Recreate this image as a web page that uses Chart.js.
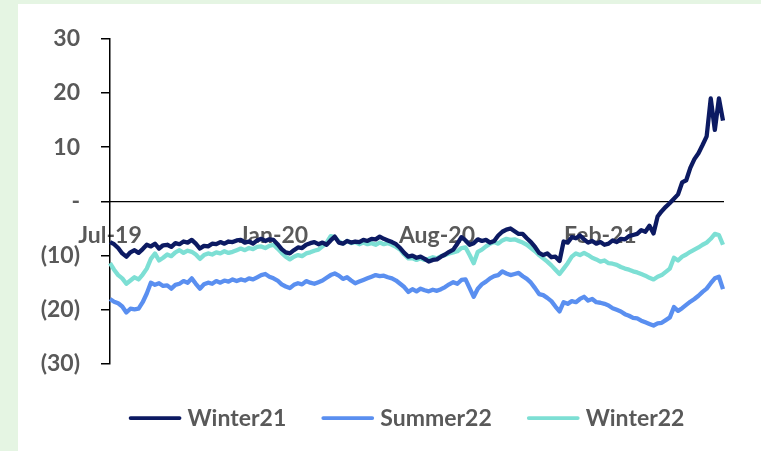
<!DOCTYPE html>
<html>
<head>
<meta charset="utf-8">
<script src="https://cdn.jsdelivr.net/npm/chart.js@4.4.1/dist/chart.umd.min.js"></script>
<style>
  html, body { margin: 0; padding: 0; width: 761px; height: 451px; overflow: hidden; background: #E5F5E3; }
  #panel { position: absolute; left: 18px; top: 4px; width: 743px; height: 447px; background: #ffffff; }
  canvas { display: block; }
</style>
</head>
<body>
<div id="panel"><canvas id="c" width="743" height="447"></canvas></div>
<script>
// Spread to zero, one value per sample (roughly weekly)
const tickLabels = ['Jul-19', 'Jan-20', 'Aug-20', 'Feb-21'];
const tickEvery = 40;
const seriesNames = ['Winter21', 'Summer22', 'Winter22'];

const winter21 = [
  -7.5,-7.9,-8.6,-9.6,-10.2,-9.4,-9.0,-9.5,-8.8,-8.0,
  -8.3,-7.8,-8.7,-8.1,-8.0,-8.4,-7.7,-7.9,-7.4,-7.6,
  -7.1,-7.8,-8.7,-8.2,-8.3,-7.8,-7.9,-7.5,-7.8,-7.4,
  -7.5,-7.2,-7.1,-7.6,-7.4,-7.8,-7.2,-6.9,-7.3,-7.0,
  -7.1,-7.9,-8.8,-9.4,-9.6,-9.0,-8.5,-8.6,-8.0,-7.7,
  -7.5,-7.9,-7.6,-8.0,-7.2,-6.5,-7.6,-7.8,-7.3,-7.6,
  -7.4,-7.5,-7.1,-7.3,-6.9,-7.0,-6.5,-6.9,-7.2,-7.5,
  -7.9,-8.6,-9.5,-10.2,-10.0,-10.4,-10.2,-10.6,-11.1,-10.8,
  -10.7,-10.2,-9.8,-9.3,-8.9,-7.8,-6.6,-7.2,-8.0,-7.7,
  -7.0,-7.3,-7.1,-7.6,-7.3,-6.3,-5.6,-5.2,-5.0,-5.5,
  -6.0,-6.0,-6.8,-7.5,-8.4,-9.5,-9.9,-9.6,-10.3,-10.2,
  -11.0,-7.4,-7.6,-6.6,-6.8,-6.3,-7.0,-7.6,-7.3,-7.8,
  -7.5,-8.0,-7.8,-7.2,-7.5,-6.9,-7.0,-6.4,-6.2,-6.0,
  -5.3,-5.6,-4.5,-5.9,-2.8,-1.8,-1.0,-0.3,0.5,1.3,
  3.5,3.9,6.2,7.8,8.9,10.4,12.0,19.0,13.2,19.0,
  14.9
];

const summer22 = [
  -18.0,-18.5,-18.8,-19.4,-20.5,-19.8,-19.9,-19.8,-18.6,-17.0,
  -15.0,-15.4,-15.1,-15.6,-15.5,-16.1,-15.4,-15.2,-14.7,-15.0,
  -14.2,-15.2,-16.1,-15.3,-15.0,-15.2,-14.7,-15.0,-14.6,-14.8,
  -14.4,-14.7,-14.4,-14.6,-14.2,-14.4,-14.0,-13.6,-13.4,-13.9,
  -14.2,-14.6,-15.3,-15.7,-16.0,-15.4,-15.1,-15.3,-14.7,-15.0,
  -15.2,-14.9,-14.6,-14.1,-13.6,-13.3,-13.7,-14.3,-14.0,-14.6,
  -15.1,-14.8,-14.5,-14.2,-13.9,-13.6,-13.8,-13.7,-14.0,-14.2,
  -14.6,-15.2,-15.8,-16.7,-16.2,-16.6,-16.1,-16.4,-16.6,-16.3,
  -16.5,-16.2,-15.8,-15.3,-14.9,-15.2,-14.5,-14.4,-16.0,-17.6,
  -16.1,-15.3,-14.8,-14.2,-13.8,-13.6,-12.9,-13.3,-13.6,-13.4,
  -13.2,-13.8,-14.3,-15.0,-16.0,-17.1,-17.3,-17.8,-18.4,-19.4,
  -20.3,-18.6,-18.9,-18.4,-18.6,-18.0,-17.6,-18.3,-18.0,-18.6,
  -18.7,-18.9,-19.2,-19.7,-20.0,-20.3,-20.8,-21.1,-21.5,-21.6,
  -22.0,-22.3,-22.6,-22.9,-22.5,-22.4,-21.9,-21.4,-19.5,-20.2,
  -19.7,-19.1,-18.5,-18.0,-17.4,-16.7,-16.1,-15.1,-14.2,-13.9,
  -16.2
];

const winter22 = [
  -11.4,-12.6,-13.6,-14.2,-15.2,-14.6,-14.0,-14.4,-13.5,-12.4,
  -10.6,-9.6,-10.9,-10.4,-9.8,-10.1,-9.4,-9.0,-9.5,-9.1,
  -9.3,-9.8,-10.6,-9.9,-9.6,-9.8,-9.4,-9.6,-9.2,-9.5,
  -9.3,-9.0,-8.7,-9.0,-8.6,-8.8,-8.4,-8.3,-8.6,-8.2,
  -8.0,-8.7,-9.5,-10.2,-10.7,-10.2,-9.9,-10.1,-9.6,-9.4,
  -9.1,-8.9,-8.3,-7.6,-6.4,-6.6,-7.4,-7.8,-7.3,-7.7,
  -7.5,-7.9,-7.6,-7.9,-7.7,-8.0,-7.6,-7.9,-7.7,-8.0,
  -8.4,-8.9,-9.8,-10.5,-10.5,-10.8,-10.5,-10.8,-10.6,-10.3,
  -10.5,-10.1,-9.9,-9.6,-9.4,-9.2,-8.6,-8.5,-9.9,-11.4,
  -9.3,-8.9,-8.3,-7.8,-7.5,-7.8,-7.2,-6.9,-7.1,-7.0,
  -7.3,-7.6,-8.0,-8.6,-9.2,-9.9,-10.5,-11.1,-11.8,-12.6,
  -13.4,-12.4,-11.4,-10.2,-9.6,-9.9,-9.5,-9.9,-10.4,-10.7,
  -11.1,-10.9,-11.4,-11.5,-11.7,-12.1,-12.4,-12.6,-12.9,-13.1,
  -13.4,-13.7,-14.1,-14.4,-13.9,-13.6,-13.0,-12.4,-10.4,-10.9,
  -10.2,-9.8,-9.3,-8.9,-8.5,-8.0,-7.6,-6.9,-6.0,-6.2,
  -8.0
];

// Category labels: only every tickEvery-th sample carries a month label
const categories = winter21.map((_, i) =>
  i % tickEvery === 0 ? (tickLabels[i / tickEvery] || '') : '');

const COLORS = ['#0C1A62', '#5A8FF0', '#7DDFD4'];
const TEXT = '#595959';
const FONT = 'Lato, "Open Sans", sans-serif';

// Accounting-style axis numbers: negatives in brackets, zero as a dash
function fmtAxis(v) {
  if (v === 0) return '-';
  return v < 0 ? '(' + Math.abs(v) + ')' : String(v);
}

// Legend drawn under the plot: short line sample followed by the series name
const lineLegend = {
  id: 'lineLegend',
  afterDraw(chart) {
    const ctx = chart.ctx;
    const sets = chart.data.datasets;
    const lineLen = 53, gap = 6, spacing = 35, cx = 388.5, y = 414;
    ctx.save();
    ctx.font = 'bold 23px ' + FONT;
    const widths = sets.map(d => lineLen + gap + ctx.measureText(d.label).width);
    const total = widths.reduce((a, b) => a + b, 0) + spacing * (sets.length - 1);
    let x = cx - total / 2;
    sets.forEach((d, i) => {
      ctx.strokeStyle = d.borderColor;
      ctx.lineWidth = 3.75;
      ctx.lineCap = 'round';
      ctx.beginPath();
      ctx.moveTo(x + 2, y);
      ctx.lineTo(x + lineLen - 2, y);
      ctx.stroke();
      ctx.fillStyle = TEXT;
      ctx.textAlign = 'left';
      ctx.textBaseline = 'middle';
      ctx.fillText(d.label, x + lineLen + gap, y + 1);
      x += widths[i] + spacing;
    });
    ctx.restore();
  }
};

const seriesData = [winter21, summer22, winter22];

new Chart(document.getElementById('c'), {
  type: 'line',
  data: {
    labels: categories,
    datasets: seriesNames.map((name, k) => ({
      label: name,
      data: seriesData[k],
      borderColor: COLORS[k],
      backgroundColor: COLORS[k],
      borderWidth: 4.3,
      borderJoinStyle: 'round',
      pointRadius: 0,
      tension: 0,
      fill: false
    }))
  },
  options: {
    responsive: false,
    animation: false,
    devicePixelRatio: 1,
    layout: { padding: { top: 30, right: 38, bottom: 87, left: 0 } },
    plugins: {
      legend: { display: false },
      tooltip: { enabled: false }
    },
    scales: {
      x: {
        type: 'category',
        position: { y: 0 },
        z: 1,
        offset: false,
        grid: { display: false, drawTicks: false },
        border: { display: true, color: '#000000', width: 1.3 },
        ticks: {
          autoSkip: false,
          maxRotation: 0,
          minRotation: 0,
          padding: 20,
          color: TEXT,
          font: { family: FONT, size: 23, weight: 'bold' }
        }
      },
      y: {
        min: -30,
        max: 30,
        afterFit(scale) { scale.width = 92; },
        grid: {
          display: true,
          drawOnChartArea: false,
          drawTicks: true,
          tickLength: 9,
          color: '#000000',
          lineWidth: 1.5
        },
        border: { display: true, color: '#000000', width: 1.5 },
        ticks: {
          stepSize: 10,
          padding: 21,
          color: TEXT,
          font: { family: FONT, size: 23, weight: 'bold' },
          callback: (v) => fmtAxis(v)
        }
      }
    }
  },
  plugins: [lineLegend]
});
</script>
</body>
</html>
